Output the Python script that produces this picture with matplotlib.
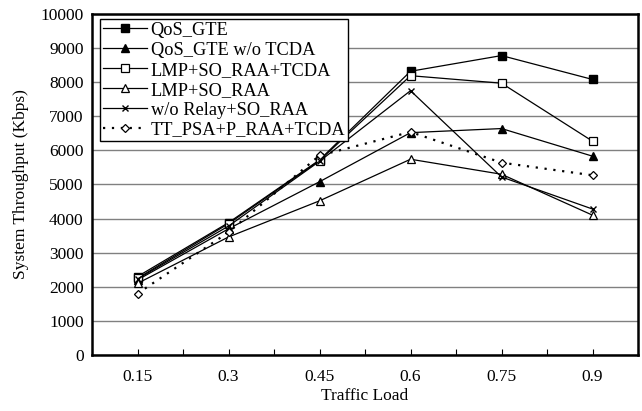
import matplotlib.pyplot as plt
import numpy as np

plt.rcParams['font.family'] = ['Liberation Serif', 'DejaVu Serif']

loads = ["0.15", "0.3", "0.45", "0.6", "0.75", "0.9"]

qos_gte = [2300, 3880, 5720, 8320, 8780, 8080]
qos_gte_no_tcda = [2200, 3700, 5080, 6520, 6640, 5830]
lmp_so_raa_tcda = [2250, 3850, 5700, 8190, 7970, 6270]
lmp_so_raa = [2100, 3460, 4520, 5740, 5300, 4100]
no_relay_so_raa = [2230, 3780, 5680, 7750, 5220, 4280]
tt_psa = [1800, 3600, 5850, 6540, 5640, 5270]

fig = plt.figure(figsize=(6.42, 4.11), dpi=100)
ax = fig.add_axes([0.1433, 0.1363, 0.8505, 0.8297])

x = np.arange(len(loads))

ax.plot(x, qos_gte, color="black", lw=0.9, marker="s", ms=5.5, mfc="black", mec="black", label="QoS_GTE")
ax.plot(x, qos_gte_no_tcda, color="black", lw=0.9, marker="^", ms=6, mfc="black", mec="black", label="QoS_GTE w/o TCDA")
ax.plot(x, lmp_so_raa_tcda, color="black", lw=0.9, marker="s", ms=5.5, mfc="white", mec="black", mew=0.9, label="LMP+SO_RAA+TCDA")
ax.plot(x, lmp_so_raa, color="black", lw=0.9, marker="^", ms=6, mfc="white", mec="black", mew=0.9, label="LMP+SO_RAA")
ax.plot(x, no_relay_so_raa, color="black", lw=0.9, marker="x", ms=5, mec="black", mew=1.0, label="w/o Relay+SO_RAA")
ax.plot(x, tt_psa, color="black", lw=1.6, ls=(0, (1, 3)), marker="D", ms=4.5, mfc="white", mec="black", mew=0.9, label="TT_PSA+P_RAA+TCDA")

# Axis range and grid
ax.set_xlim(-0.5, len(loads) - 0.5)
ax.set_ylim(0, 10000)
ax.set_yticks(range(0, 10001, 1000))
ax.yaxis.grid(True, color="#808080", lw=1.0)
ax.set_axisbelow(True)

# Category labels at centers, ticks at centers and boundaries
ax.set_xticks(x)
ax.set_xticklabels(loads)
ax.set_xticks(np.arange(-0.5, len(loads), 1.0), minor=True)
ax.tick_params(axis="x", which="both", direction="in", length=4, width=0.8, labelsize=12.5, pad=10)
ax.tick_params(axis="y", which="major", length=0, labelsize=12.5, pad=6)

for s in ax.spines.values():
    s.set_linewidth(1.8)
    s.set_color("black")

ax.set_xlabel("Traffic Load", fontsize=12.5, labelpad=2)
ax.set_ylabel("System Throughput (Kbps)", fontsize=12.5, labelpad=8)

leg = ax.legend(loc="upper left", bbox_to_anchor=(0.015, 0.985), fontsize=13.2,
                handlelength=2.4, handletextpad=0.2, labelspacing=0.16,
                borderpad=0.15, borderaxespad=0.0, fancybox=False, framealpha=1)
leg.get_frame().set_edgecolor("black")
leg.get_frame().set_linewidth(1.0)

plt.savefig("out.png", dpi=100)
